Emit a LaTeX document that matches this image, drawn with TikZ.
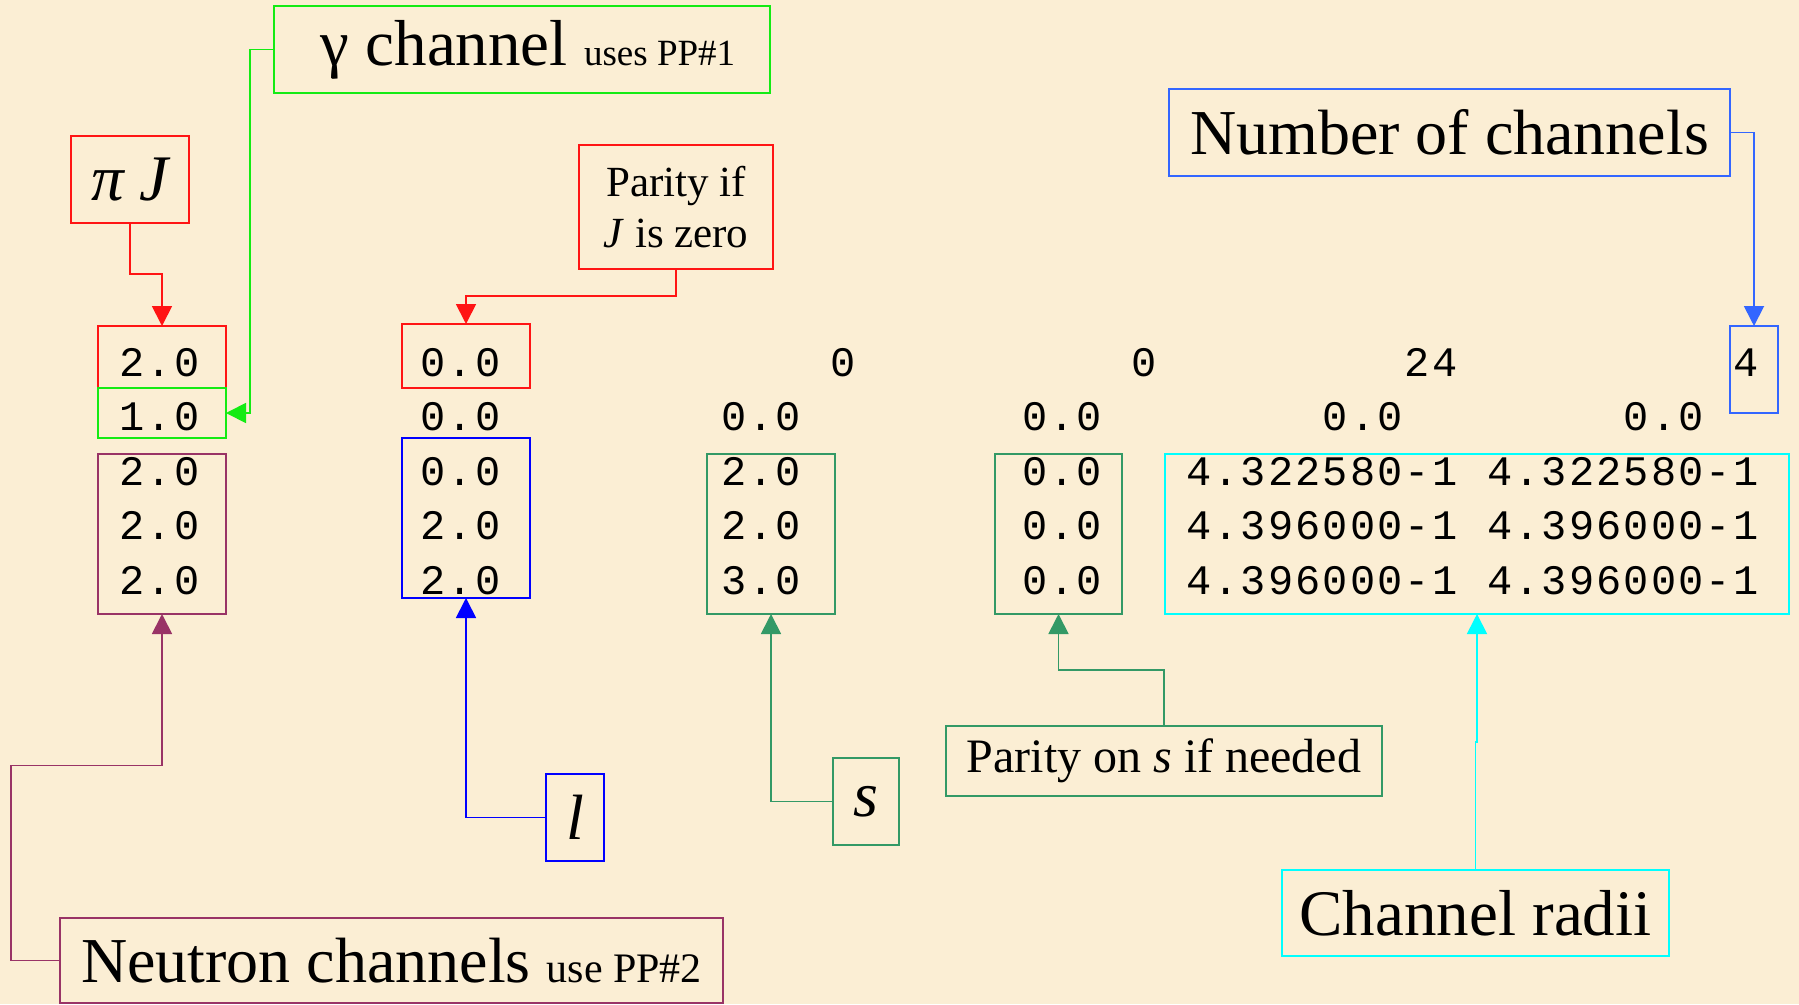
\documentclass[tikz,border=0pt]{standalone}
\usepackage{fontspec}
\setmainfont{Liberation Serif}
\newfontfamily\monofam[LetterSpace=5.1]{Liberation Mono}
\usetikzlibrary{arrows.meta}
\definecolor{bgc}{RGB}{251,238,212}
\definecolor{cred}{RGB}{255,20,20}
\definecolor{cgreen}{RGB}{20,235,20}
\definecolor{cpurple}{RGB}{153,51,102}
\definecolor{cblue}{RGB}{0,0,255}
\definecolor{csea}{RGB}{51,153,102}
\definecolor{ccyan}{RGB}{0,255,255}
\definecolor{croyal}{RGB}{51,102,255}
\newcommand\fsz[2]{\fontsize{#1}{#2}\selectfont}
\newcommand\datcell[4]{\node[dat] (#1) at (#2,#3) {#4};}
\begin{document}
\begin{tikzpicture}[x=1pt,y=-1pt,
  box/.style={draw, line width=1.8pt, inner sep=0pt, outer sep=0pt},
  lab/.style={box, text=black, align=center},
  con/.style={line width=1.8pt, -{Triangle[length=20pt,width=20pt]}},
  dat/.style={anchor=base west, inner sep=0pt, outer sep=0pt, font=\monofam\fsz{42}{46}}]
\fill[bgc] (0,0) rectangle (1799,1004);
\useasboundingbox (0,0) rectangle (1799,1004);

% label boxes
\node[lab, draw=cgreen, minimum width=496pt, minimum height=87pt, font=\fsz{65}{70}] (glab) at (522,49.5) {\hspace*{12pt}γ channel {\fsz{37}{40}uses PP\#1}};
\node[lab, draw=cred, minimum width=118pt, minimum height=87pt, font=\fsz{65}{70}\itshape] (pij) at (130,179.5) {π J};
\node[lab, draw=cred, minimum width=194pt, minimum height=124pt, font=\fsz{43}{51}] (pif) at (676,207) {Parity if\\\textit{J} is zero};
\node[lab, draw=croyal, minimum width=561pt, minimum height=87pt, font=\fsz{64}{70}] (noc) at (1449.5,132.5) {Number of channels};
\node[lab, draw=cpurple, minimum width=663pt, minimum height=85pt, font=\fsz{64}{70}] (neut) at (391.5,960.5) {Neutron channels {\fsz{42}{46}use PP\#2}};
\node[lab, draw=cblue, minimum width=58pt, minimum height=87pt, font=\fsz{64}{70}] (lnode) at (575,817.5) {\textit{l}};
\node[lab, draw=csea, minimum width=66pt, minimum height=87pt, font=\fsz{64}{70}] (snode) at (866,801.5) {\raisebox{-6pt}{\textit{s}}};
\node[lab, draw=csea, minimum width=436pt, minimum height=70pt, font=\fsz{48}{55}] (pos) at (1164,761) {Parity on \textit{s} if needed};
\node[lab, draw=ccyan, minimum width=387pt, minimum height=86pt, font=\fsz{65}{72}] (crad) at (1475.5,913) {Channel radii};

% data boxes
\node[box, draw=cred, minimum width=128pt, minimum height=62pt] (jbox) at (162,357) {};
\node[box, draw=cgreen, minimum width=128pt, minimum height=50pt] (gbox) at (162,413) {};
\node[box, draw=cpurple, minimum width=128pt, minimum height=160pt] (pbox) at (162,534) {};
\node[box, draw=cred, minimum width=128pt, minimum height=64pt] (zbox) at (466,356) {};
\node[box, draw=cblue, minimum width=128pt, minimum height=160pt] (ebox) at (466,518) {};
\node[box, draw=csea, minimum width=128pt, minimum height=160pt] (fbox) at (771,534) {};
\node[box, draw=csea, minimum width=127pt, minimum height=160pt] (hbox) at (1058.5,534) {};
\node[box, draw=ccyan, minimum width=624pt, minimum height=160pt] (rbox) at (1477,534) {};
\node[box, draw=croyal, minimum width=48pt, minimum height=87pt] (nbox) at (1754,369.5) {};

% data text
\datcell{a1}{119.5}{376}{2.0}
\datcell{b1}{420.35}{376}{0.0}
\datcell{c1}{830.6}{376}{0}
\datcell{d1}{1131.45}{376}{0}
\datcell{e1}{1404.95}{376}{24}
\datcell{f1}{1733.15}{376}{4}

\datcell{a2}{119.5}{430}{1.0}
\datcell{b2}{420.35}{430}{0.0}
\datcell{c2}{721.2}{430}{0.0}
\datcell{d2}{1022.05}{430}{0.0}
\datcell{e2}{1322.9}{430}{0.0}
\datcell{f2}{1623.75}{430}{0.0}

\datcell{a3}{119.5}{485}{2.0}
\datcell{b3}{420.35}{485}{0.0}
\datcell{c3}{721.2}{485}{2.0}
\datcell{d3}{1022.05}{485}{0.0}
\datcell{e3}{1186.15}{485}{4.322580-1}
\datcell{f3}{1487}{485}{4.322580-1}

\datcell{a4}{119.5}{539}{2.0}
\datcell{b4}{420.35}{539}{2.0}
\datcell{c4}{721.2}{539}{2.0}
\datcell{d4}{1022.05}{539}{0.0}
\datcell{e4}{1186.15}{539}{4.396000-1}
\datcell{f4}{1487}{539}{4.396000-1}

\datcell{a5}{119.5}{594}{2.0}
\datcell{b5}{420.35}{594}{2.0}
\datcell{c5}{721.2}{594}{3.0}
\datcell{d5}{1022.05}{594}{0.0}
\datcell{e5}{1186.15}{594}{4.396000-1}
\datcell{f5}{1487}{594}{4.396000-1}

% connectors
\coordinate (gturn) at ([xshift=24pt]gbox.east);
\draw[con, cgreen] (glab.west) -| (gturn) -- (gbox.east);
\draw[con, cred] (pij.south) -- ++(0,51) -| (jbox.north);
\draw[con, cred] (pif.south) -- ++(0,27) -| (zbox.north);
\draw[con, croyal] (noc.east) -| (nbox.north);
\draw[con, cpurple] (neut.west) -- ++(-49,0) -- ++(0,-195) -| (pbox.south);
\draw[con, cblue] (lnode.west) -| (ebox.south);
\draw[con, csea] (snode.west) -| (fbox.south);
\draw[con, csea] (pos.north) -- ++(0,-56) -| (hbox.south);
\draw[con, ccyan] (crad.north) -- ++(0,-128) -| (rbox.south);
\end{tikzpicture}
\end{document}
